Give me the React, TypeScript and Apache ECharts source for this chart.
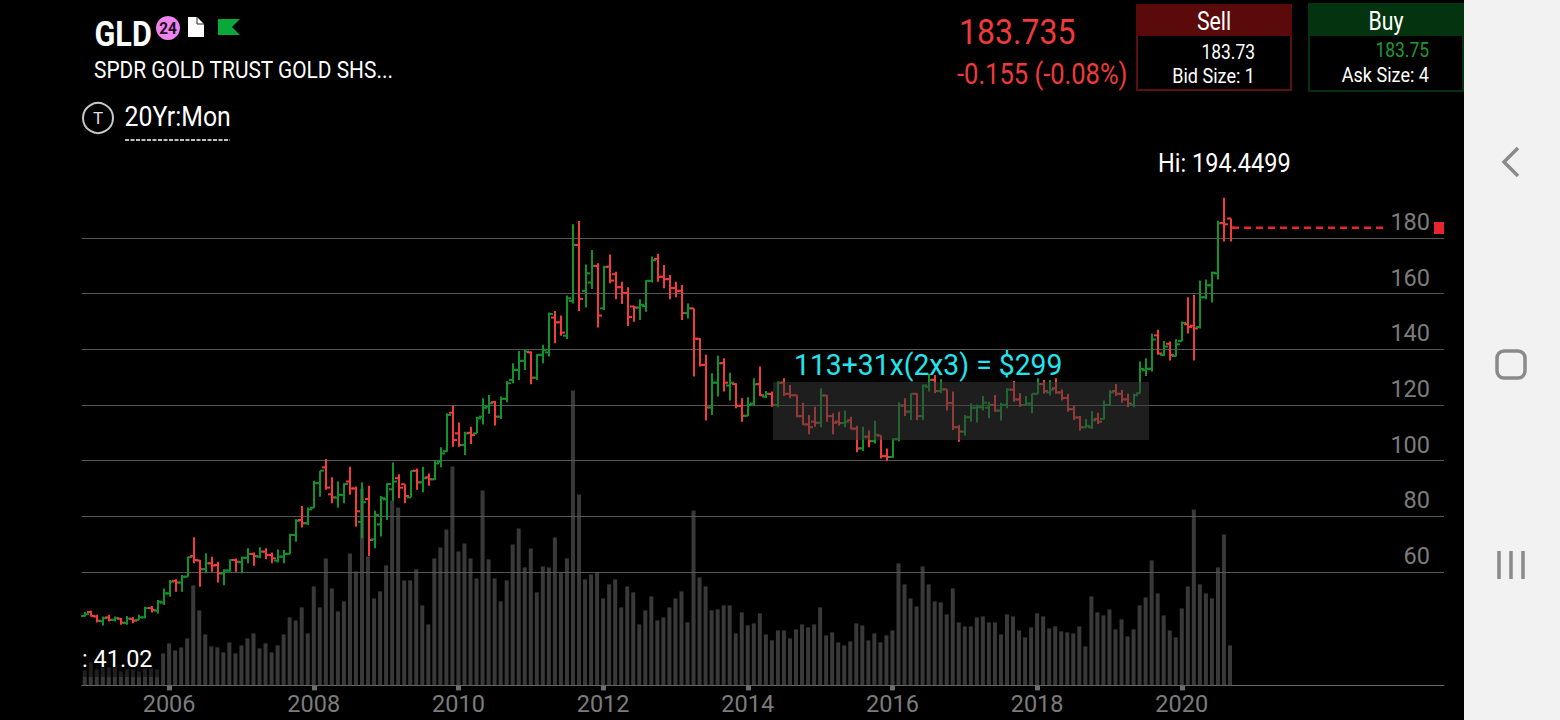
import React, { useEffect, useRef } from "react";
import * as echarts from "echarts";

// Monthly OHLC + volume, Nov 2004 .. Sep 2020
const opens = [44.2,45.6,44,42.3,43.7,42.8,43.2,41.6,43.2,42.8,43.7,47,46.1,49,52.3,56.8,56.2,58.3,65.7,64.1,61,63.1,62.5,59.5,60.5,64.3,63.5,65.1,66.5,65.5,67.3,66.1,64.1,65.5,66.5,73.3,78.7,77.5,83.1,91.9,97.6,87.9,86.7,87.7,92.5,90,78,86.2,71.7,77.1,86.1,89.7,93.7,91.5,86.8,96.4,92.2,94,93.3,99.6,103.4,117.2,109.8,105.6,110,109.8,115.8,119.4,121,115.8,122.2,129,132.6,135.9,138.9,129.8,138,138.9,151.4,149.7,144.9,157.4,177.5,161,164,169.9,154.7,169.7,167,162.3,160.3,155.4,155,155.5,164.6,172.5,166.1,165.2,162,161,153,154.7,143.8,134.4,119.1,128,135,127,127.5,119.7,116.1,120.5,127.5,123,124,120,128,124,123.5,116,113,114,113.6,123.4,116,114,113.5,114.5,111.5,104.4,108.6,107,109,101.6,101.3,107.7,119.8,117.6,124,116,126.5,129,125,125.6,120.7,112,110.4,115.6,119,119.2,119,120,118,120,125.5,122,120,120.5,124,127.5,124.5,126,124.5,122.5,118.5,115.5,112,112,115,115,120,125,124,122,120,124.2,132.5,133,145,138,142,137.6,143,149,148.5,148,158.7,163,167.3,185.3,187];
const highs = [45.6,46.1,44.6,44,44.6,44,43.5,44.2,43.7,44.6,47.5,47.8,49.9,54.1,57.1,57.4,58.9,65.5,72.5,64.3,66.7,65.5,63.7,61,64.6,64.8,65.5,68.5,67,68.9,68.5,67,68.1,67.9,73.7,78.9,83.7,83.2,92.8,96.4,100.6,94,92.5,91.9,97.8,90.7,92.2,91,82,87.3,91.9,99.3,95.1,91.5,96.4,97.2,97.8,95.4,100.2,104.8,117,119.8,113.7,110.4,112.2,115.8,122.4,123.6,121.4,123,128.6,135,139.4,139.8,139.2,138.2,141.6,153.2,153.8,152.1,159.3,184.9,186.1,170.5,175.7,170.9,170,174.1,167.9,164.3,162.3,155.6,158,164.8,173.3,174.3,170.3,166.7,164.3,163.1,156.5,154.7,144,138,131.4,137.7,136.8,131.6,127.8,122.4,122.8,129.6,133.8,125,124.8,128.4,129.6,127.2,123.6,120.8,116.4,119.4,126,123.6,117,117.6,118,115.8,112.5,112.2,110.8,114.3,109,104.4,108,121,122.4,124.2,124.2,127.3,131.1,130.8,129.2,125.6,124.8,112.8,116.4,120.6,120.2,123.2,121.2,123.6,120.8,126,128.6,124.2,123.2,124,129.6,129,129,129.6,125.6,124,119.6,116,115,117.8,117.2,121.6,125.4,127.5,125.4,124,124,135.6,136.8,145.7,147,143,142.8,143.6,150,158.7,159.5,164.7,165.1,167.9,186.2,194.45,187];
const lows = [44,44,41.8,40.8,42.2,42.2,41,41,41.6,42.8,43.4,45.4,45.1,48.1,51.1,52.9,52.9,58.3,63.1,54.7,59.5,60.1,56.2,55.2,60.1,60.1,59.5,63.1,62.2,64.9,64.6,63.1,63.4,63.1,66.5,70.9,76,76.9,83.1,87,89.5,84.7,83.1,84.7,87.7,76.3,72.1,65.7,68.5,72.7,78.7,85.6,86.5,84.7,86.8,89.5,88.6,91,93,97.6,103.2,105,105,102,106,109.8,113,116.8,112.6,115,121,127.8,129,132.6,127.4,129,135,137.4,142.2,144.9,143.7,156.5,153.8,155,161.7,147.8,154.1,163.7,158,156.3,148.4,149.9,150.5,153.5,164,164.3,161.9,158,158.7,150.5,151.1,130.2,133.8,114.4,116.4,123,124.8,121.6,118.8,114,116,120,123.2,122.5,119.4,119.2,123.2,122.4,115.6,112.8,109.5,112.2,112,114,109.5,112.5,112,111.3,103,103.5,104.8,106.2,100.8,99.9,101,107,116,114.6,114.6,114.6,124.8,124.2,124.2,118,111,106.8,109,114,113.7,118,115.2,117.6,114.4,118.8,121.2,119.4,120,117,124,124,123.4,124,121.6,117.6,114.6,110.8,111.6,111.4,113.2,114.8,120,123.2,120.8,119.2,119.2,124.2,130.4,132,138,137.6,136,137.4,143,145.7,136,147.5,158,156.8,165.1,178.7,178.7];
const closes = [44.8,44.2,42.5,43.4,42.8,43.4,41.8,43.2,42.5,43.7,47,46.3,49.3,52.3,56.5,56.2,58.3,65.3,64.3,61,63.1,62.3,59.5,60.5,64.3,63.7,65.1,66.5,65.7,67.3,66.1,64.9,65.5,66.5,73.3,78.4,77.5,82.5,91.9,96.4,90.3,86.8,87.7,91.6,90,81.8,85.1,71.5,80.5,86.5,91.6,92.5,90.3,87.3,96.3,92.2,93.7,93.3,99,102.6,116.4,107.4,105.6,109.8,109.2,115.2,119,120.6,115.8,122.2,127.8,132.6,135.8,139.2,129.8,138,139.8,152.7,149.7,146,158.3,177.5,158.1,167.3,170,152.1,169.5,164.7,162.3,160.2,151.6,155,156,164.6,172,166,165.2,162,161,153,154.7,143.8,134.4,119.1,128,135,128,128,119.7,116.1,120,127.4,123.5,124,120,128,124,123.5,116,113,112,113.6,123.4,116,113.6,113.5,114,111.5,104.4,108.6,107,109.3,101.6,101.3,107.7,119.8,117.6,124,116,127,129,125,125.6,120.7,112,110.5,115.6,119,119.2,120.8,120,118,120,125.5,122,120,120.5,124,127.5,125,125.5,124.5,122.5,118.5,115.5,112,112.5,114.5,114,120,124.5,124,122,120.5,123.5,133,133,143.5,138.5,141,138,141.8,149.5,148,147.5,158.7,163,167.5,185.3,184.9,183.7];
const volumes = [15,23,16,18,18,18,14,16,16,14,17,17,16,32,42,35,38,47,100,75,51,39,38,33,43,32,40,47,52,37,42,33,40,51,68,65,78,52,99,78,127,97,74,84,132,114,197,129,87,94,120,185,178,105,105,116,80,61,127,138,156,219,134,142,127,107,195,126,107,84,105,141,157,118,137,93,119,118,148,113,127,295,191,106,111,113,87,101,106,78,99,93,61,75,89,65,68,78,87,94,63,175,108,99,75,76,80,80,52,73,60,62,72,51,45,55,55,47,56,61,58,61,78,50,53,43,40,44,62,60,45,52,43,50,55,122,101,87,79,119,101,84,83,71,97,63,59,59,68,69,63,63,51,71,69,55,48,58,72,69,57,59,54,53,52,59,39,89,73,70,76,56,66,49,56,80,88,125,92,70,55,48,77,99,176,101,92,87,118,151,40];
const priceTicks = [20, 40, 60, 80, 100, 120, 140, 160, 180, 200];
const labelledYears = ["2006", "2008", "2010", "2012", "2014", "2016", "2018", "2020"];
const startYear = 2004;
const startMonth = 11;
const monthSlots = 226;

const categories: string[] = [];
for (let k = 0; k < monthSlots; k++) {
  const m0 = startMonth - 1 + k;
  const year = startYear + Math.floor(m0 / 12);
  const month = (m0 % 12) + 1;
  categories.push(`${year}-${String(month).padStart(2, "0")}`);
}
const isLabelled = (_: number, v: string) => v.endsWith("-01") && labelledYears.includes(v.slice(0, 4));

const GREEN = "#12922c";
const RED = "#f23c3c";
const FONT = "Roboto";

function t(text: string, x: number, y: number, size: number, fill: string, opts: any = {}) {
  return {
    type: "text",
    x,
    y,
    z: 30,
    scaleX: opts.scaleX ?? 1,
    style: {
      text,
      fill,
      font: `${opts.weight ?? "normal"} ${size}px ${FONT}`,
      textAlign: opts.align ?? "left",
      textVerticalAlign: "middle",
    },
  };
}

export default function App() {
  const ref = useRef<HTMLDivElement>(null);
  useEffect(() => {
    const chart = echarts.init(ref.current!, null, { renderer: "svg" });
    const ohlc = closes.map((c, i) => [i, opens[i], highs[i], lows[i], c]);
    const left = 81.7;
    const plotWidth = 1444 - left;
    chart.setOption({
      animation: false,
      backgroundColor: "#000",
      grid: [
        { left, width: plotWidth, top: 182.3, height: 501.0 },
        { left, width: plotWidth, top: 385.4, height: 300 },
      ],
      xAxis: [
        { type: "category", gridIndex: 0, data: categories, show: false },
        {
          type: "category",
          gridIndex: 1,
          data: categories,
          axisLine: { show: true, lineStyle: { color: "#666", width: 1 } },
          axisTick: { show: true, interval: isLabelled, alignWithLabel: true, length: 5, lineStyle: { color: "#6e6e6e", width: 5 } },
          axisLabel: {
            show: true,
            interval: isLabelled,
            formatter: (v: string) => v.slice(0, 4),
            color: "#7c7c7c",
            fontSize: 23.5,
            fontFamily: FONT,
            margin: 7,
          },
          splitLine: { show: false },
        },
      ],
      yAxis: [
        {
          type: "value",
          gridIndex: 0,
          position: "right",
          min: priceTicks[0],
          max: priceTicks[priceTicks.length - 1],
          interval: 20,
          axisLine: { show: false },
          axisTick: { show: false },
          axisLabel: {
            inside: true,
            margin: 14,
            color: "#7c7c7c",
            fontSize: 23.5,
            fontFamily: FONT,
            verticalAlign: "bottom",
            padding: [0, 0, 4, 0],
            formatter: (v: number) => (v >= 60 && v <= 180 ? String(v) : ""),
          },
          splitLine: {
            show: true,
            lineStyle: {
              width: 1,
              color: priceTicks.map((v) => (v >= 60 && v <= 180 ? "#565656" : "rgba(0,0,0,0)")),
            },
          },
        },
        {
          type: "value",
          gridIndex: 1,
          min: 0,
          max: 300,
          show: false,
          splitLine: { show: false },
        },
      ],
      series: [
        {
          type: "bar",
          xAxisIndex: 1,
          yAxisIndex: 1,
          data: volumes,
          barWidth: 4,
          itemStyle: { color: "rgba(92,92,92,0.62)" },
          z: 1,
          silent: true,
        },
        {
          type: "custom",
          xAxisIndex: 0,
          yAxisIndex: 0,
          data: ohlc,
          encode: { x: 0, y: [1, 2, 3, 4] },
          z: 3,
          silent: true,
          clip: false,
          renderItem: (_: any, api: any) => {
            const idx = api.value(0);
            const o = api.coord([idx, api.value(1)]);
            const h = api.coord([idx, api.value(2)]);
            const l = api.coord([idx, api.value(3)]);
            const c = api.coord([idx, api.value(4)]);
            const x = Math.round(o[0] + 0.5);
            const stroke = api.value(4) >= api.value(1) ? GREEN : RED;
            const st = { stroke, lineWidth: 2, fill: "none" };
            return {
              type: "group",
              children: [
                { type: "line", shape: { x1: x, y1: h[1], x2: x, y2: l[1] }, style: st },
                { type: "line", shape: { x1: x - 4, y1: o[1], x2: x, y2: o[1] }, style: st },
                { type: "line", shape: { x1: x, y1: c[1], x2: x + 4, y2: c[1] }, style: st },
              ],
            };
          },
        },
      ],
      graphic: [
        // highlighted range
        { type: "rect", z: 10, shape: { x: 773, y: 382, width: 376, height: 58 }, style: { fill: "rgba(57,57,57,0.53)" } },
        t("113+31x(2x3) = $299", 794, 365, 29, "#22e6ee", { scaleX: 0.977 }),
        // dim panel behind the study value
        { type: "rect", z: 10, shape: { x: 82, y: 645, width: 78, height: 32 }, style: { fill: "rgba(0,0,0,0.45)" } },
        t(": 41.02", 82, 659, 24, "#fff", { scaleX: 0.98 }),
        // last-price line
        { type: "line", z: 12, shape: { x1: 1232, y1: 227.7, x2: 1385, y2: 227.7 }, style: { stroke: "#e8242c", lineWidth: 2.6, lineDash: [7, 5] } },
        { type: "rect", z: 12, shape: { x: 1434, y: 222, width: 10, height: 12 }, style: { fill: "#e8242c" } },
        t("Hi: 194.4499", 1158, 163.5, 25, "#fff", { scaleX: 0.94 }),
        // header left
        t("GLD", 94.5, 34, 36, "#fff", { weight: "bold", scaleX: 0.85 }),
        { type: "circle", z: 20, shape: { cx: 168, cy: 28, r: 12 }, style: { fill: "#ee82ee" } },
        t("24", 168, 28, 17, "#1a0a1e", { align: "center", weight: "bold", scaleX: 0.9 }),
        { type: "polygon", z: 20, shape: { points: [[188, 17], [197, 17], [204, 24], [204, 37], [188, 37]] }, style: { fill: "#fff" } },
        { type: "polyline", z: 21, shape: { points: [[197, 17], [197, 24], [204, 24]] }, style: { stroke: "#222", lineWidth: 1, fill: "none" } },
        { type: "polygon", z: 20, shape: { points: [[218, 19], [240, 19], [232, 27], [240, 35], [218, 35]] }, style: { fill: "#0aa83a" } },
        t("SPDR GOLD TRUST GOLD SHS...", 94, 69, 24, "#fff", { scaleX: 0.87 }),
        { type: "circle", z: 20, shape: { cx: 98, cy: 118, r: 15 }, style: { fill: "none", stroke: "#c8c8c8", lineWidth: 2 } },
        t("T", 98, 118, 17, "#e0e0e0", { align: "center" }),
        t("20Yr:Mon", 124.5, 117, 27, "#fff", { scaleX: 0.92 }),
        { type: "line", z: 20, shape: { x1: 125, y1: 140, x2: 230, y2: 140 }, style: { stroke: "#fff", lineWidth: 1.5, lineDash: [4, 1.5] } },
        // header quote
        t("183.735", 959, 31, 36, "#ee3a3a", { scaleX: 0.89 }),
        t("-0.155 (-0.08%)", 957, 74, 29, "#ee3a3a", { scaleX: 0.88 }),
        // Sell box
        { type: "rect", z: 20, shape: { x: 1137, y: 5, width: 154, height: 85 }, style: { fill: "#000", stroke: "#5a1010", lineWidth: 2 } },
        { type: "rect", z: 21, shape: { x: 1136, y: 4, width: 156, height: 32 }, style: { fill: "#5a0a0a" } },
        t("Sell", 1214, 21, 25, "#fff", { align: "center", scaleX: 0.85 }),
        t("183.73", 1255, 52, 21, "#fff", { align: "right", scaleX: 0.83 }),
        t("Bid Size: 1", 1255, 76, 21, "#fff", { align: "right", scaleX: 0.86 }),
        // Buy box
        { type: "rect", z: 20, shape: { x: 1309, y: 4, width: 154, height: 87 }, style: { fill: "#000", stroke: "#06300f", lineWidth: 2 } },
        { type: "rect", z: 21, shape: { x: 1308, y: 3, width: 156, height: 33 }, style: { fill: "#04330f" } },
        t("Buy", 1386, 21, 25, "#fff", { align: "center", scaleX: 0.85 }),
        t("183.75", 1429, 50, 21, "#1e9b33", { align: "right", scaleX: 0.83 }),
        t("Ask Size: 4", 1429, 75, 21, "#fff", { align: "right", scaleX: 0.86 }),
        // system navigation strip
        { type: "rect", z: 40, shape: { x: 1464, y: 0, width: 96, height: 720 }, style: { fill: "#f2f2f2" } },
        { type: "polyline", z: 41, shape: { points: [[1518, 148], [1504, 162], [1518, 176]] }, style: { stroke: "#8a8a8a", lineWidth: 3.5, fill: "none" } },
        { type: "rect", z: 41, shape: { x: 1497, y: 351, width: 28, height: 27, r: 7 }, style: { fill: "none", stroke: "#8a8a8a", lineWidth: 3.5 } },
        { type: "line", z: 41, shape: { x1: 1499, y1: 551, x2: 1499, y2: 579 }, style: { stroke: "#8a8a8a", lineWidth: 3.5 } },
        { type: "line", z: 41, shape: { x1: 1511, y1: 551, x2: 1511, y2: 579 }, style: { stroke: "#8a8a8a", lineWidth: 3.5 } },
        { type: "line", z: 41, shape: { x1: 1523, y1: 551, x2: 1523, y2: 579 }, style: { stroke: "#8a8a8a", lineWidth: 3.5 } },
      ],
    });
    return () => chart.dispose();
  }, []);
  return <div ref={ref} style={{ position: "fixed", left: 0, top: 0, width: 1560, height: 720, background: "#000" }} />;
}
